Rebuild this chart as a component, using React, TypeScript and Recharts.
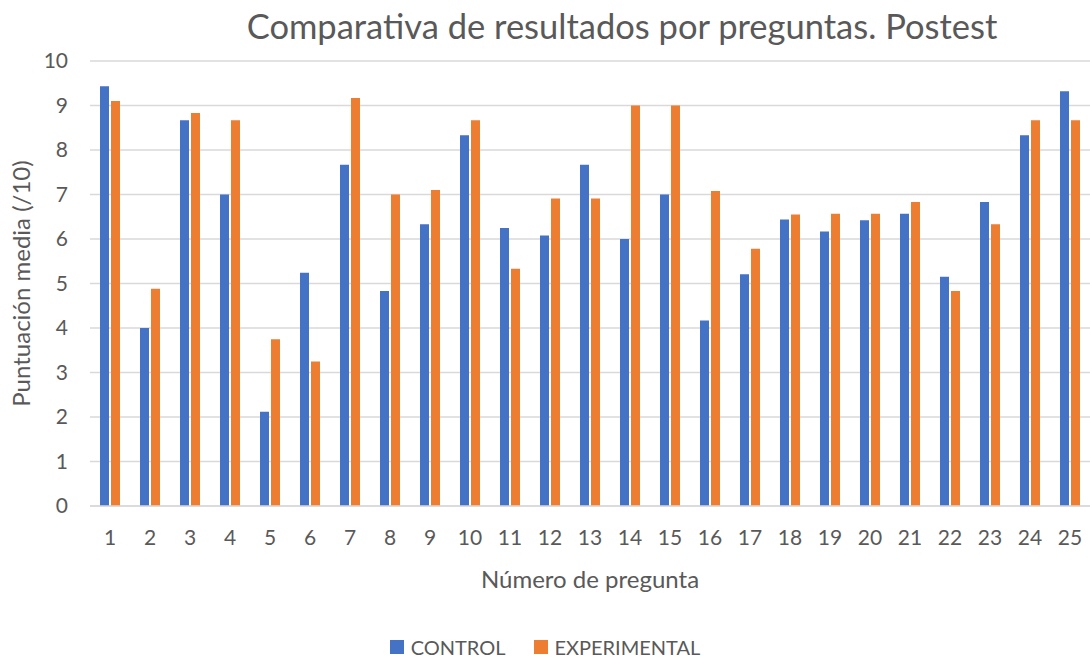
import React from 'react';
import { BarChart, Bar, XAxis, YAxis, CartesianGrid, Legend, Label } from 'recharts';

const categories = ['1','2','3','4','5','6','7','8','9','10','11','12','13','14','15','16','17','18','19','20','21','22','23','24','25'];
const control = [9.43, 4.0, 8.67, 7.0, 2.12, 5.24, 7.67, 4.83, 6.33, 8.33, 6.25, 6.08, 7.67, 6.0, 7.0, 4.17, 5.21, 6.44, 6.17, 6.42, 6.57, 5.15, 6.83, 8.33, 9.32];
const experimental = [9.1, 4.88, 8.83, 8.67, 3.75, 3.25, 9.17, 7.0, 7.1, 8.67, 5.33, 6.91, 6.91, 9.0, 9.0, 7.08, 5.78, 6.55, 6.57, 6.57, 6.83, 4.83, 6.33, 8.67, 8.67];
const yTicks = [0, 1, 2, 3, 4, 5, 6, 7, 8, 9, 10];

const data = categories.map((c, i) => ({ name: c, CONTROL: control[i], EXPERIMENTAL: experimental[i] }));

const FONT = 'Lato, "Open Sans", sans-serif';
const TEXT = '#595959';

const LegendContent = (props: any) => {
  const { payload } = props;
  return (
    <div style={{ height: 24, display: 'flex', justifyContent: 'center', alignItems: 'center', fontFamily: FONT, fontSize: 20, color: TEXT }}>
      {(payload || []).map((p: any, i: number) => (
        <div key={i} style={{ display: 'flex', alignItems: 'center', marginLeft: i === 0 ? 0 : 28 }}>
          <span style={{ display: 'inline-block', width: 14, height: 14, background: p.color, marginRight: 7 }} />
          <span>{p.value}</span>
        </div>
      ))}
    </div>
  );
};

export default function App() {
  return (
    <div style={{ position: 'absolute', left: 0, top: 0, width: 1090, height: 659, background: '#fff', fontFamily: FONT }}>
      <div style={{ position: 'absolute', left: 622, top: 25, transform: 'translate(-50%, -50%)', whiteSpace: 'nowrap', fontSize: 34.5, color: TEXT, fontFamily: FONT }}>
        Comparativa de resultados por preguntas. Postest
      </div>
      <BarChart width={1090} height={659} data={data} margin={{ top: 61, right: 0, bottom: 0, left: 0 }} barGap={2} barSize={9}>
        <CartesianGrid vertical={false} stroke="#d9d9d9" strokeWidth={1.5} />
        <XAxis dataKey="name" height={129} tickSize={0} tickMargin={24} axisLine={{ stroke: '#d9d9d9', strokeWidth: 1.5 }} tickLine={false} tick={{ fill: TEXT, fontSize: 21, fontFamily: FONT }} interval={0}>
          <Label value="Número de pregunta" position="insideBottom" offset={47} style={{ fill: TEXT, fontSize: 24, fontFamily: FONT }} />
        </XAxis>
        <YAxis width={90} domain={[0, 10]} ticks={yTicks} tickSize={0} tickMargin={22} axisLine={false} tickLine={false} tick={{ fill: TEXT, fontSize: 21, fontFamily: FONT }}>
          <Label value="Puntuación media (/10)" angle={-90} position="insideLeft" offset={21} style={{ fill: TEXT, fontSize: 24, fontFamily: FONT, textAnchor: 'middle' }} />
        </YAxis>
        <Legend verticalAlign="bottom" align="center" content={<LegendContent />} />
        <Bar dataKey="CONTROL" fill="#4472C4" isAnimationActive={false} />
        <Bar dataKey="EXPERIMENTAL" fill="#ED7D31" isAnimationActive={false} />
      </BarChart>
    </div>
  );
}
